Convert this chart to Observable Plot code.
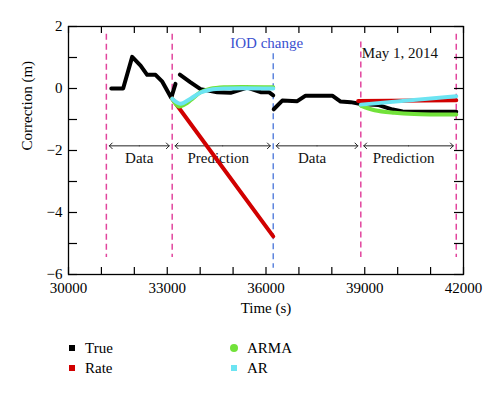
<!DOCTYPE html>
<html>
<head>
<meta charset="utf-8">
<script src="https://cdn.jsdelivr.net/npm/d3@7"></script>
<script src="https://cdn.jsdelivr.net/npm/@observablehq/plot@0.6"></script>
<style>
  body { margin: 0; background: white; }
  #chart { width: 500px; }
  .legend { position: relative; width: 500px; height: 70px; font-family: "Liberation Serif", serif; font-size: 15px; color: #000; }
  .legend .item { position: absolute; display: flex; align-items: center; height: 20px; }
  .legend .sw { width: 6px; height: 6px; margin-right: 10px; }
  .legend .sw.circle { width: 8px; height: 8px; border-radius: 50%; margin-left: -1px; margin-right: 9px; }
</style>
</head>
<body>
<div id="chart"></div>
<script>
// ---- data ----
const xTickLabels = [30000, 33000, 36000, 39000, 42000];
const xMinorTicks = [30000, 31000, 32000, 33000, 34000, 35000, 36000, 37000, 38000, 39000, 40000, 41000, 42000];
const yTickLabels = [-6, -4, -2, 0, 2];
const yMinorTicks = [-6, -5, -4, -3, -2, -1, 0, 1, 2];

// True (null breaks the line)
const trueTime  = [31300, 31660, 31935, 32190, 32390, 32645, 32850, 33120, 33250, 33300,
                   33383, 33708, 34012, 34519, 34924, 35431, 35836, 36088, 36220, 36225,
                   36235, 36495, 36950, 37204, 38014, 38267, 38571, 38880, 39400, 39850, 40150, 41780];
const trueValue = [0.0, 0.0, 1.02, 0.74, 0.44, 0.44, 0.22, -0.3, 0.15, null,
                   0.45, 0.2, -0.02, -0.12, -0.14, 0.03, -0.12, -0.12, -0.22, null,
                   -0.67, -0.39, -0.41, -0.23, -0.23, -0.42, -0.44, -0.5, -0.53, -0.68, -0.74, -0.75];

// Rate
const rateTime  = [33150, 36220, 37000, 38800, 41780];
const rateValue = [-0.33, -4.77, null, -0.4, -0.38];

// ARMA
const armaTime  = [33150, 33350, 33550, 33708, 34012, 34316, 34721, 36220, 37000,
                   38880, 39300, 39900, 40500, 41780];
const armaValue = [-0.33, -0.58, -0.5, -0.38, -0.12, -0.01, 0.04, 0.04, null,
                   -0.55, -0.7, -0.78, -0.82, -0.84];

// AR
const arTime  = [33150, 33400, 33708, 34012, 34316, 34721, 36220, 37000, 38880, 41780];
const arValue = [-0.33, -0.49, -0.33, -0.13, -0.04, 0.0, 0.0, null, -0.52, -0.25];

// vertical dashed markers
const vlineTime   = [31150, 33150, 36220, 38880, 41780];
const vlineTop    = [1.75, 1.75, 1.12, 1.5, 1.75];
const vlineBottom = [-5.45, -5.45, -5.8, -5.45, -5.45];
const vlineKind   = ["pink", "pink", "blue", "pink", "pink"];

// period arrows & labels
const spanStart = [31150, 33150, 36220, 38880];
const spanEnd   = [33150, 36220, 38880, 41780];
const spanLabel = ["Data", "Prediction", "Data", "Prediction"];
const spanLabelX = [32150, 34550, 37400, 40180];
const spanArrowY = -1.85;
const spanLabelY = -2.25;

const legendNames = ["True", "Rate", "ARMA", "AR"];
const legendColors = ["#000000", "#d10000", "#72e23a", "#6ce4f2"];

// ---- build ----
const colors = {True: legendColors[0], Rate: legendColors[1], ARMA: legendColors[2], AR: legendColors[3]};
const vColors = {pink: "#e2469e", blue: "#5f86de"};
const fmt = d3.format("d");

const W = 500, H = 325, mL = 68, mR = 37, mT = 26, mB = 51;
const pw = W - mL - mR, ph = H - mT - mB;

const series = (t, v) => t.map((x, i) => ({x, y: v[i]}));
const vlines = vlineTime.map((x, i) => ({x, y1: vlineTop[i], y2: vlineBottom[i], kind: vlineKind[i]}));
const arrows = [];
spanStart.forEach((s, i) => {
  const m = (s + spanEnd[i]) / 2;
  arrows.push({x1: m, x2: s}, {x1: m, x2: spanEnd[i]});
});
const labels = spanLabel.map((t, i) => ({x: spanLabelX[i], y: spanLabelY, t}));

const chart = Plot.plot({
  width: W, height: H,
  marginLeft: mL, marginRight: mR, marginTop: mT, marginBottom: mB,
  x: {domain: [30000, 42000]},
  y: {domain: [-6, 2]},
  style: {fontFamily: "Liberation Serif, serif", fontSize: "15px", background: "white", color: "black"},
  marks: [
    Plot.ruleX(vlines, {x: "x", y1: "y1", y2: "y2", stroke: d => vColors[d.kind], strokeWidth: 1.5, strokeDasharray: "6,4"}),
    Plot.arrow(arrows, {x1: "x1", x2: "x2", y1: spanArrowY, y2: spanArrowY, stroke: "#222", strokeWidth: 1, headLength: 6, headAngle: 90, insetEnd: 3}),
    Plot.text(labels, {x: "x", y: "y", text: "t", fontSize: 15, fill: "#111"}),
    Plot.line(series(trueTime, trueValue), {x: "x", y: "y", stroke: colors.True, strokeWidth: 4, strokeLinejoin: "round"}),
    Plot.line(series(rateTime, rateValue), {x: "x", y: "y", stroke: colors.Rate, strokeWidth: 4}),
    Plot.line(series(armaTime, armaValue), {x: "x", y: "y", stroke: colors.ARMA, strokeWidth: 4, curve: "catmull-rom"}),
    Plot.line(series(arTime, arValue), {x: "x", y: "y", stroke: colors.AR, strokeWidth: 4, curve: "catmull-rom"}),
    Plot.text(["IOD change"], {x: 36020, y: 1.45, fill: "#3a50cf", fontSize: 15}),
    Plot.text(["May 1, 2014"], {x: 38880, y: 1.15, dx: 1, textAnchor: "start", fill: "#111", fontSize: 15}),
    // inward ticks
    Plot.tickX(xMinorTicks, {x: d => d, insetTop: ph - 7, stroke: "black", strokeWidth: 1.2}),
    Plot.tickX(xMinorTicks, {x: d => d, insetBottom: ph - 7, stroke: "black", strokeWidth: 1.2}),
    Plot.tickY(yMinorTicks, {y: d => d, insetRight: pw - 9, stroke: "black", strokeWidth: 1.2}),
    Plot.tickY(yMinorTicks, {y: d => d, insetLeft: pw - 9, stroke: "black", strokeWidth: 1.2}),
    Plot.axisX(xTickLabels, {tickSize: 0, tickPadding: 8, tickFormat: fmt, label: null, fontSize: 15}),
    Plot.axisY(yTickLabels, {tickSize: 0, tickPadding: 6, tickFormat: fmt, label: null, fontSize: 15}),
    Plot.text(["Time (s)"], {frameAnchor: "bottom", dy: 38, fontSize: 15}),
    Plot.text(["Correction (m)"], {frameAnchor: "left", dx: -41, rotate: -90, fontSize: 15}),
    Plot.frame({stroke: "black", strokeWidth: 1.3})
  ]
});
document.getElementById("chart").appendChild(chart);

// legend
const legend = document.createElement("div");
legend.className = "legend";
const pos = [[69, 13], [69, 33], [231, 13], [231, 33]];
legendNames.forEach((name, i) => {
  const item = document.createElement("div");
  item.className = "item";
  item.style.left = pos[i][0] + "px";
  item.style.top = pos[i][1] + "px";
  const sw = document.createElement("span");
  sw.className = "sw" + (name === "ARMA" ? " circle" : "");
  sw.style.background = legendColors[i];
  const tx = document.createElement("span");
  tx.textContent = name;
  item.appendChild(sw);
  item.appendChild(tx);
  legend.appendChild(item);
});
document.body.appendChild(legend);
</script>
</body>
</html>
